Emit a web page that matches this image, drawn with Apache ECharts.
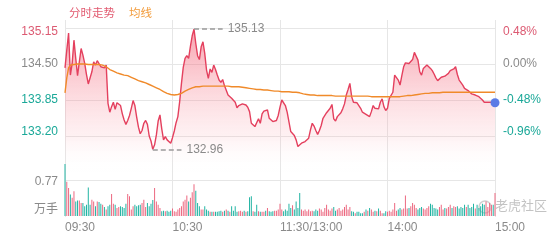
<!DOCTYPE html>
<html><head><meta charset="utf-8">
<script src="https://cdn.jsdelivr.net/npm/echarts@6/dist/echarts.min.js"></script>
<style>html,body{margin:0;padding:0;background:#fff}#c{width:560px;height:240px}</style>
</head><body><div id="c"></div>
<script>
// ---------------- data ----------------
const prevClose = 134.50;
const prices = [
134.43,134.75,135.06,134.30,134.51,134.93,134.60,134.29,134.54,134.78,
134.66,134.51,134.31,134.14,134.13,134.36,134.54,134.48,134.56,134.53,
134.45,134.48,134.43,134.48,133.79,133.63,133.73,133.81,133.68,133.80,
133.80,133.75,133.60,133.49,133.41,133.48,133.57,133.70,133.84,133.75,
133.54,133.36,133.24,133.30,133.43,133.48,133.41,133.20,133.11,132.96,
133.04,133.22,133.47,133.58,133.33,133.13,133.19,133.13,133.11,133.07,
133.17,133.29,133.44,133.55,133.82,134.15,134.44,134.60,134.65,134.60,
134.82,135.01,135.13,134.87,134.65,134.58,134.81,134.90,134.69,134.39,
134.24,134.41,134.35,134.48,134.40,134.30,134.21,134.17,134.22,134.11,
134.11,133.94,133.94,133.88,133.85,133.81,133.71,133.75,133.75,133.78,
133.76,133.76,133.72,133.64,133.43,133.45,133.37,133.34,133.51,133.43,
133.60,133.65,133.64,133.67,133.52,133.49,133.46,133.46,133.48,133.57,
133.72,133.85,133.84,133.75,133.63,133.61,133.28,133.28,133.21,133.13,
133.01,132.99,133.07,133.07,133.10,133.11,133.16,133.31,133.43,133.38,
133.30,133.23,133.30,133.39,133.52,133.53,133.62,133.65,133.70,133.77,
133.51,133.47,133.55,133.56,133.62,133.69,133.78,133.94,134.04,134.15,
133.91,133.81,133.83,133.80,133.77,133.70,133.63,133.63,133.59,133.61,
133.55,133.64,133.75,133.70,133.72,133.69,133.81,133.87,133.73,133.66,
133.70,133.88,133.91,133.99,134.30,134.33,134.21,134.12,134.29,134.45,
134.52,134.53,134.51,134.54,134.58,134.71,134.74,134.57,134.36,134.30,
134.42,134.45,134.48,134.51,134.42,134.38,134.32,134.25,134.20,134.21,
134.26,134.29,134.28,134.28,134.33,134.38,134.37,134.41,134.45,134.31,
134.21,134.18,134.12,134.06,134.08,134.02,133.99,133.96,133.94,133.94,
133.93,133.91,133.90,133.85,133.81,133.81,133.81,133.81,133.81,133.80,
133.80];
const avgPrices = [
133.98,134.25,134.43,134.48,134.49,134.49,134.50,134.50,134.50,134.50,
134.50,134.50,134.49,134.49,134.49,134.49,134.49,134.49,134.49,134.49,
134.49,134.48,134.47,134.45,134.42,134.40,134.38,134.37,134.36,134.34,
134.33,134.32,134.31,134.30,134.29,134.29,134.27,134.26,134.24,134.23,
134.21,134.20,134.19,134.18,134.17,134.16,134.15,134.13,134.12,134.10,
134.09,134.07,134.05,134.04,134.02,134.00,133.99,133.97,133.96,133.95,
133.94,133.94,133.95,133.95,133.96,133.97,133.99,134.01,134.03,134.04,
134.06,134.07,134.08,134.09,134.09,134.09,134.10,134.10,134.10,134.10,
134.10,134.10,134.10,134.10,134.10,134.10,134.10,134.10,134.10,134.10,
134.10,134.10,134.10,134.09,134.09,134.09,134.09,134.09,134.08,134.08,
134.08,134.07,134.07,134.06,134.06,134.05,134.05,134.04,134.04,134.04,
134.04,134.03,134.03,134.03,134.02,134.02,134.02,134.01,134.01,134.01,
134.01,134.00,134.00,134.00,134.00,134.00,133.99,133.99,133.99,133.99,
133.99,133.98,133.97,133.96,133.95,133.95,133.94,133.94,133.94,133.94,
133.94,133.93,133.93,133.93,133.93,133.93,133.93,133.93,133.93,133.93,
133.93,133.92,133.92,133.92,133.92,133.92,133.92,133.92,133.92,133.92,
133.92,133.92,133.92,133.92,133.92,133.92,133.92,133.92,133.92,133.92,
133.92,133.91,133.91,133.91,133.91,133.91,133.91,133.91,133.91,133.91,
133.91,133.91,133.91,133.91,133.91,133.91,133.91,133.91,133.91,133.92,
133.92,133.93,133.93,133.93,133.94,133.94,133.95,133.95,133.96,133.96,
133.96,133.97,133.97,133.97,133.97,133.98,133.98,133.98,133.98,133.98,
133.98,133.99,133.99,133.99,133.99,133.99,133.99,133.99,133.99,133.99,
133.99,133.99,133.99,133.99,133.99,133.99,133.99,133.99,133.99,133.99,
133.99,133.99,133.99,133.99,133.99,133.99,133.99,133.99,133.99,133.99,
133.99];
const volumes = [
1.11,0.73,0.60,0.46,0.39,0.53,0.31,0.33,0.33,0.28,
0.28,0.21,0.24,0.61,0.24,0.35,0.31,0.21,0.31,0.30,
0.26,0.24,0.19,0.14,0.21,0.24,0.47,0.26,0.24,0.17,
0.19,0.21,0.19,0.17,0.26,0.47,0.42,0.14,0.21,0.24,
0.21,0.23,0.24,0.28,0.35,0.19,0.28,0.21,0.26,0.34,
0.60,0.31,0.24,0.17,0.10,0.11,0.10,0.11,0.09,0.11,
0.16,0.10,0.09,0.14,0.17,0.21,0.31,0.35,0.44,0.31,
0.39,0.51,0.68,0.54,0.28,0.21,0.14,0.14,0.21,0.14,
0.11,0.09,0.09,0.09,0.09,0.09,0.10,0.11,0.09,0.11,
0.14,0.11,0.09,0.21,0.11,0.21,0.09,0.10,0.11,0.09,
0.11,0.09,0.10,0.40,0.42,0.10,0.09,0.24,0.10,0.09,
0.09,0.09,0.11,0.17,0.10,0.09,0.10,0.11,0.11,0.14,
0.26,0.14,0.10,0.14,0.11,0.26,0.17,0.23,0.14,0.31,
0.17,0.49,0.14,0.11,0.14,0.10,0.14,0.10,0.11,0.10,
0.14,0.11,0.16,0.14,0.09,0.17,0.24,0.14,0.11,0.16,
0.19,0.11,0.14,0.17,0.11,0.14,0.19,0.24,0.14,0.19,
0.10,0.09,0.06,0.09,0.09,0.06,0.06,0.09,0.14,0.11,
0.17,0.14,0.09,0.11,0.10,0.16,0.11,0.06,0.06,0.10,
0.09,0.11,0.09,0.14,0.28,0.11,0.14,0.17,0.14,0.16,
0.44,0.16,0.17,0.21,0.28,0.24,0.17,0.14,0.17,0.19,
0.16,0.14,0.17,0.21,0.26,0.24,0.17,0.16,0.14,0.19,
0.24,0.14,0.17,0.16,0.19,0.24,0.17,0.21,0.19,0.21,
0.16,0.19,0.17,0.24,0.19,0.24,0.17,0.19,0.26,0.16,
0.24,0.17,0.21,0.26,0.24,0.31,0.19,0.28,0.24,0.24,
0.49];
const yTickPrices = [133.20, 133.85, 134.50, 135.15];
const yTickPcts = [-0.96, -0.48, 0.00, 0.48];
const volTick = 0.77;
const volUnit = '万手';
const xTickIndex = [0, 60, 120, 180, 240];
const xTickLabels = ['09:30', '10:30', '11:30/13:00', '14:00', '15:00'];
const titleMain = '分时走势';
const titleAvg = '均线';

// ---------------- build ----------------
const fmt = m => String(Math.floor(m / 60)).padStart(2, '0') + ':' + String(m % 60).padStart(2, '0');
const times = [];
for (let m = 570; m <= 690; m++) times.push(fmt(m));
for (let m = 781; m <= 900; m++) times.push(fmt(m));

const RED = '#e4405e', LRED = '#dc5a72', TEAL = '#1aa898', GRAYT = '#8a8a8a', GRID = '#e6e6e6';
const BAR_RED = '#ec6880', BAR_TEAL = '#22b4a3';
const FONT = '"Liberation Sans", Arial, "Noto Sans CJK SC", sans-serif';

const off = p => +(p - prevClose).toFixed(2);
const priceOff = prices.map(off);
const avgOff = avgPrices.map(off);
let maxI = 0, minI = 0;
prices.forEach((p, i) => { if (p > prices[maxI]) maxI = i; if (p < prices[minI]) minI = i; });
const lastI = prices.length - 1;
const volData = volumes.map((v, i) => ({
  value: v,
  itemStyle: { color: prices[i] >= (i ? prices[i - 1] : prevClose) ? BAR_RED : BAR_TEAL }
}));

const step = 0.65;
const yMin = -3 * step;
const yMax = step + step * 8 / 36;
const pctStep = 0.48;

function leftFmt(v) {
  const k = yTickPrices.findIndex(p => Math.abs(p - prevClose - v) < 0.005);
  if (k < 0) return '';
  const st = ['bot', 'lo', 'mid', 'top'][k];
  return '{' + st + '|' + yTickPrices[k].toFixed(2) + '}';
}
function rightFmt(v) {
  const k = yTickPcts.findIndex(p => Math.abs(p - v) < 0.005);
  if (k < 0) return '';
  const st = ['bot', 'lo', 'mid', 'top'][k];
  return '{' + st + '|' + yTickPcts[k].toFixed(2) + '%}';
}
const richY = {
  top: { color: LRED, fontSize: 12, fontFamily: FONT, padding: [8, 0, 0, 0] },
  mid: { color: GRAYT, fontSize: 12, fontFamily: FONT },
  lo: { color: TEAL, fontSize: 12, fontFamily: FONT },
  bot: { color: TEAL, fontSize: 12, fontFamily: FONT, padding: [0, 0, 8, 0] }
};

const chart = echarts.init(document.getElementById('c'));
chart.setOption({
  animation: false,
  textStyle: { fontFamily: FONT },
  title: {
    text: '{a|' + titleMain + '}{b|' + titleAvg + '}',
    left: 64, top: 3,
    textStyle: { fontWeight: 'normal', rich: {
      a: { color: '#e25a70', fontSize: 11.5, fontWeight: 'normal', fontFamily: FONT, padding: [0, 14, 0, 0] },
      b: { color: '#f29a38', fontSize: 11.5, fontWeight: 'normal', fontFamily: FONT }
    } }
  },
  grid: [
    { left: 65, right: 65, top: 20, height: 152 },
    { left: 65, right: 65, top: 144, height: 72 },
    { left: 65, right: 65, top: 20, height: 197 }
  ],
  xAxis: [
    { type: 'category', gridIndex: 0, data: times, boundaryGap: false, show: false },
    { type: 'category', gridIndex: 1, data: times, boundaryGap: false, show: false },
    { type: 'category', gridIndex: 2, data: times, boundaryGap: false,
      axisLine: { show: false }, axisTick: { show: false },
      splitLine: { show: true, interval: i => xTickIndex.includes(i), lineStyle: { color: GRID, width: 1 } },
      axisLabel: { interval: i => xTickIndex.includes(i),
        formatter: (v, i) => { const k = xTickIndex.indexOf(i); return k < 0 ? '' : xTickLabels[k]; },
        align: 'left', color: GRAYT, fontSize: 12, margin: 5, fontFamily: FONT } }
  ],
  yAxis: [
    { type: 'value', gridIndex: 0, position: 'left', min: yMin, max: yMax, interval: step,
      axisLine: { show: false }, axisTick: { show: false },
      splitLine: { show: true, showMinLine: false, showMaxLine: false, lineStyle: { color: GRID } },
      axisLabel: { margin: 7, formatter: leftFmt, rich: richY } },
    { type: 'value', gridIndex: 0, position: 'right', min: -3 * pctStep, max: pctStep * yMax / step, interval: pctStep,
      axisLine: { show: false }, axisTick: { show: false }, splitLine: { show: false },
      axisLabel: { margin: 8, formatter: rightFmt, rich: richY } },
    { type: 'value', gridIndex: 1, min: 0, max: 2 * volTick, interval: volTick,
      axisLine: { show: false }, axisTick: { show: false },
      splitLine: { show: true, showMinLine: false, showMaxLine: false, lineStyle: { color: GRID } },
      axisLabel: { margin: 7,
        formatter: v => v === 0 ? '{u|' + volUnit + '}' : (Math.abs(v - volTick) < 0.001 ? '{n|' + volTick.toFixed(2) + '}' : ''),
        rich: { u: { color: GRAYT, fontSize: 12, fontFamily: FONT, padding: [0, 0, 12, 0] },
                n: { color: GRAYT, fontSize: 12, fontFamily: FONT, padding: [4, 0, 0, 0] } } } },
    { type: 'value', gridIndex: 2, show: false }
  ],
  series: [
    { type: 'bar', xAxisIndex: 1, yAxisIndex: 2, data: volData, barWidth: 1, z: 1, silent: true },
    { type: 'line', xAxisIndex: 0, yAxisIndex: 0, data: priceOff, symbol: 'none', showSymbol: false, z: 3,
      lineStyle: { color: RED, width: 1.4 },
      areaStyle: { origin: 'start', color: new echarts.graphic.LinearGradient(0, 0, 0, 1, [
        { offset: 0, color: 'rgba(240,70,95,0.72)' },
        { offset: 0.75, color: 'rgba(250,165,175,0.22)' },
        { offset: 1, color: 'rgba(255,255,255,0)' }]) },
      markLine: { silent: true, symbol: ['none', 'none'], animation: false,
        lineStyle: { color: '#9a9a9a', type: [5, 3], width: 1.5 },
        label: { position: 'end', color: GRAYT, fontSize: 12, distance: 5, fontFamily: FONT },
        data: [
          [{ coord: [maxI, priceOff[maxI]], label: { formatter: prices[maxI].toFixed(2) } }, { coord: [maxI + 16, priceOff[maxI]] }],
          [{ coord: [minI, priceOff[minI]], label: { formatter: prices[minI].toFixed(2) } }, { coord: [minI + 16, priceOff[minI]] }]
        ] },
      markPoint: { silent: true, symbol: 'circle', symbolSize: 9, animation: false,
        itemStyle: { color: '#5a7be6' }, label: { show: false },
        data: [{ coord: [lastI, priceOff[lastI]] }] } },
    { type: 'line', xAxisIndex: 0, yAxisIndex: 0, data: avgOff, symbol: 'none', showSymbol: false, z: 4,
      lineStyle: { color: '#f08a2a', width: 1.4 } }
  ],
  graphic: [
    { type: 'circle', shape: { cx: 485, cy: 207, r: 6 }, style: { fill: 'none', stroke: 'rgba(190,190,190,0.7)', lineWidth: 1.5 } },
    { type: 'text', left: 495, top: 199, style: { text: '老虎社区', fill: 'rgba(175,175,175,0.75)', font: '13px "Noto Sans CJK SC"' } }
  ]
});
</script>
</body></html>
